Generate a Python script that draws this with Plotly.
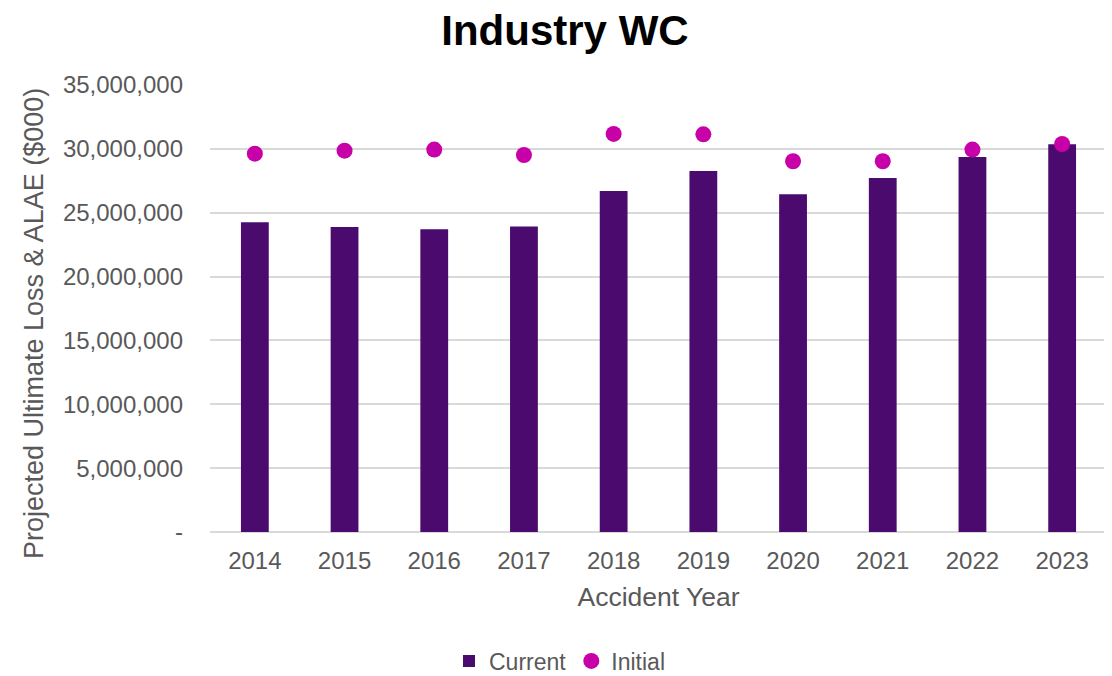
import plotly.graph_objects as go

years = ["2014", "2015", "2016", "2017", "2018", "2019", "2020", "2021", "2022", "2023"]
current = [24250000, 23880000, 23700000, 23930000, 26700000, 28270000, 26440000, 27720000, 29370000, 30360000]
initial = [29620000, 29860000, 29940000, 29520000, 31170000, 31140000, 29030000, 29030000, 29940000, 30380000]

tick_vals = [0, 5000000, 10000000, 15000000, 20000000, 25000000, 30000000, 35000000]
tick_text = ["-", "5,000,000", "10,000,000", "15,000,000", "20,000,000", "25,000,000", "30,000,000", "35,000,000"]

fig = go.Figure()
fig.add_trace(go.Bar(x=years, y=current, name="Current", marker=dict(color="#4B0A6E", line=dict(width=0)), width=0.31))
fig.add_trace(go.Scatter(x=years, y=initial, name="Initial", mode="markers",
                         marker=dict(color="#C800A8", size=16, line=dict(width=0))))

# page body adds an 8px offset, so the figure is drawn 8px smaller with 8px smaller left/top margins
fig.update_layout(
    width=1104, height=668,
    paper_bgcolor="white", plot_bgcolor="white",
    font=dict(family="Liberation Sans, Arial, sans-serif", color="#595959", size=24),
    title=dict(text="<b>Industry WC</b>", x=0.5045, xanchor="center", y=0.967, yanchor="middle",
               yref="container", font=dict(size=42, color="black"), automargin=False),
    margin=dict(l=202, r=5, t=77, b=144, autoexpand=False),
    showlegend=True,
    legend=dict(orientation="h", xref="container", x=0.5, xanchor="center", y=-0.2886, yanchor="middle",
                font=dict(size=23, color="#595959"), itemwidth=30, traceorder="normal"),
)
fig.add_annotation(text="Projected Ultimate Loss & ALAE ($000)", textangle=-90, xref="paper", yref="paper",
                   x=-0.1962, y=0.4653, xanchor="center", yanchor="middle", showarrow=False,
                   font=dict(size=27, color="#595959"))
fig.update_xaxes(range=[-0.5, 9.5], title=dict(text="Accident Year", font=dict(size=26.5, color="#595959"), standoff=14),
                 showgrid=False, showline=False, ticks="", ticklabelstandoff=12, automargin=False,
                 tickfont=dict(size=24, color="#595959"))
fig.update_yaxes(range=[0, 35000000], tickvals=tick_vals, ticktext=tick_text, automargin=False,
                 showgrid=True, gridcolor="#D9D9D9", gridwidth=1.5, zeroline=True, zerolinecolor="#D9D9D9",
                 zerolinewidth=1.5, showline=False, ticks="", ticklabelstandoff=26,
                 tickfont=dict(size=24, color="#595959"))

fig.write_html("out.html")
